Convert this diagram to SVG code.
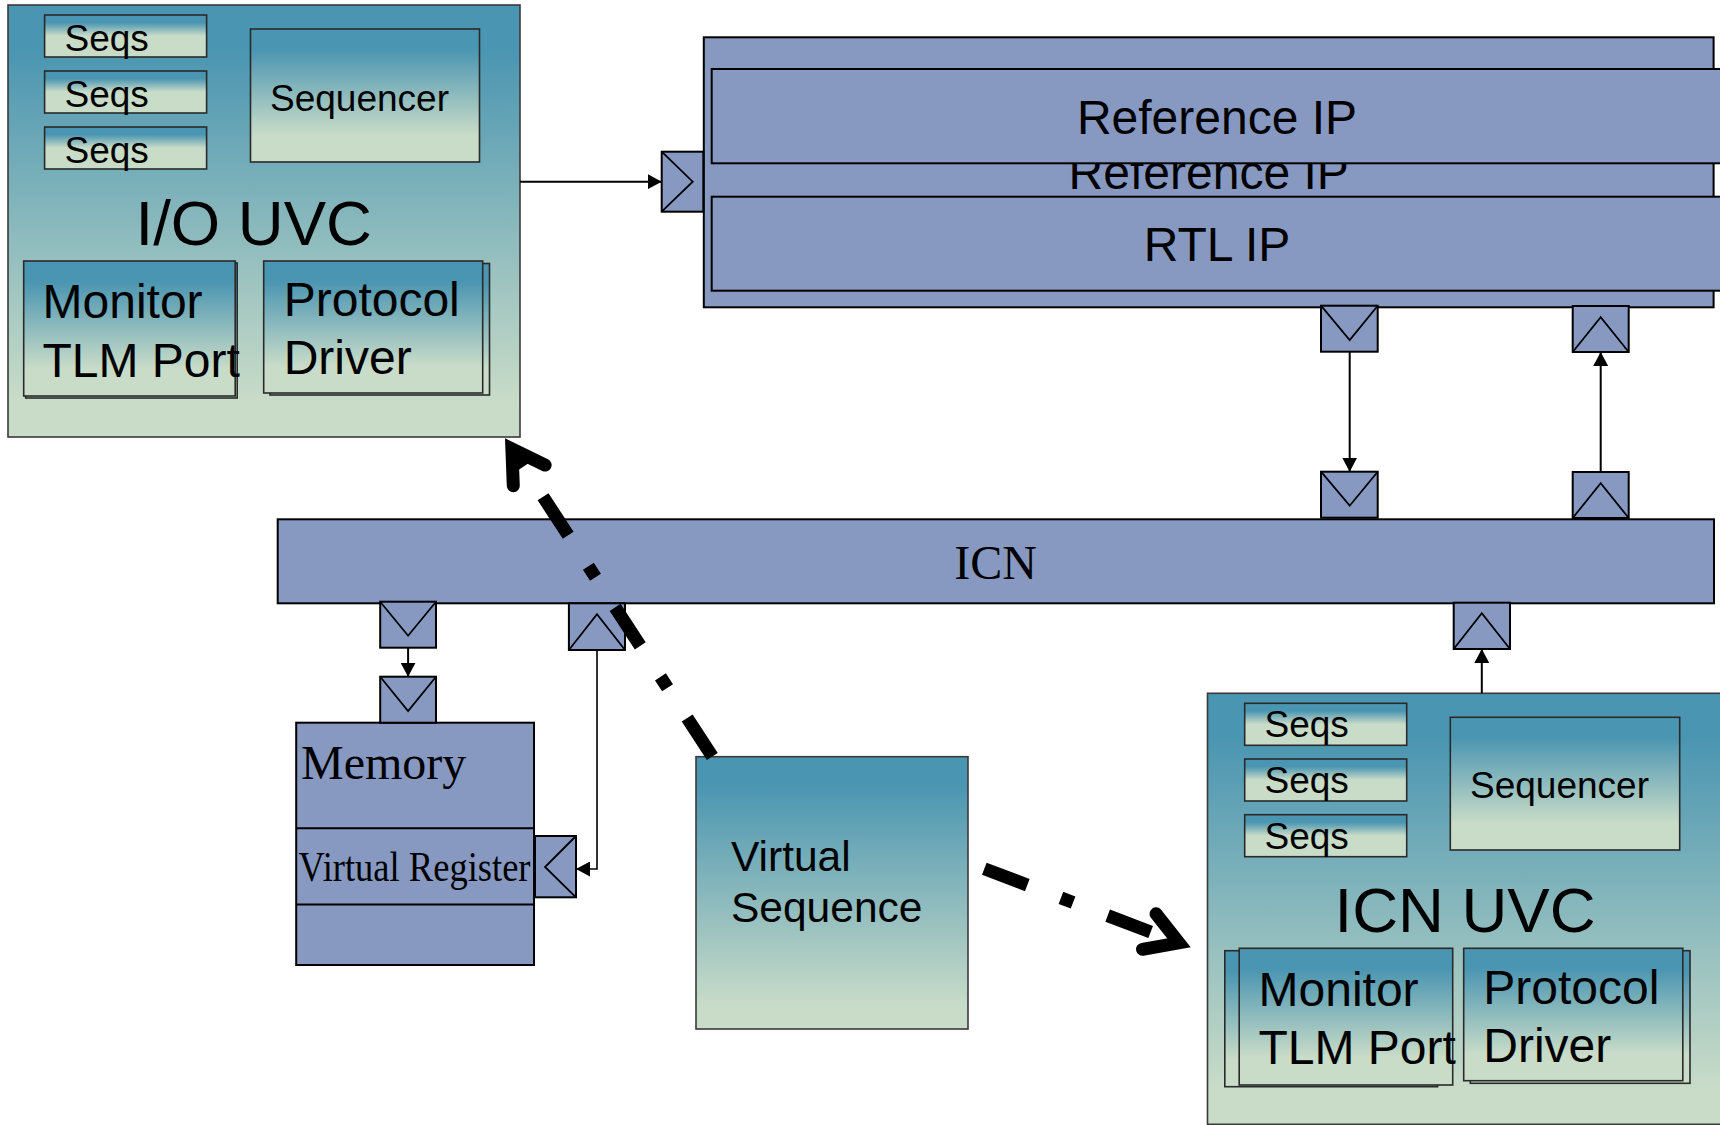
<svg xmlns="http://www.w3.org/2000/svg" width="1720" height="1125" viewBox="0 0 1720 1125">
  <defs>
    <linearGradient id="uvcFill" x1="0" y1="0" x2="0" y2="1">
      <stop offset="0.1" stop-color="#4A95B1"/>
      <stop offset="0.92" stop-color="#C9DCC8"/>
    </linearGradient>
    <linearGradient id="partFill" x1="0" y1="0" x2="0" y2="1">
      <stop offset="0.15" stop-color="#4A95B1"/>
      <stop offset="0.8" stop-color="#C9DCC8"/>
    </linearGradient>
    <linearGradient id="seqsFill" x1="0" y1="0" x2="0" y2="1">
      <stop offset="0.18" stop-color="#4A95B1"/>
      <stop offset="0.5" stop-color="#C9DCC8"/>
    </linearGradient>
    <marker id="arrow" markerUnits="userSpaceOnUse" viewBox="0 0 14 15" refX="14" refY="7.5" markerWidth="14" markerHeight="15" orient="auto">
      <path d="M0,0 L14,7.5 L0,15 Z" fill="#000"/>
    </marker>
    <marker id="chevron" markerUnits="userSpaceOnUse" viewBox="-50 -35 70 70" refX="0" refY="0" markerWidth="70" markerHeight="70" orient="auto" overflow="visible">
      <path d="M-31.7,-19 L0,0 L-31.7,19" fill="none" stroke="#000" stroke-width="13" stroke-linecap="round" stroke-linejoin="miter"/>
    </marker>
    <style>
      .sans { font-family: "Liberation Sans", Arial, sans-serif; fill: #000; }
      .serif { font-family: "Liberation Serif", "Times New Roman", serif; fill: #000; }
      .uvc { fill: url(#uvcFill); stroke: #3a3a3a; stroke-width: 1.6; }
      .part { fill: url(#partFill); stroke: #2a2a2a; stroke-width: 1.6; }
      .seqs { fill: url(#seqsFill); stroke: #2a2a2a; stroke-width: 1.6; }
      .blue { fill: #8799C1; stroke: #000; stroke-width: 2; }
      .port { fill: #8799C1; stroke: #000; stroke-width: 2; }
      .tri { fill: none; stroke: #000; stroke-width: 1.8; stroke-linejoin: miter; }
      .wire { fill: none; stroke: #000; stroke-width: 2; marker-end: url(#arrow); }
      .thin { fill: none; stroke: #000; stroke-width: 1.6; marker-end: url(#arrow); }
      .flow { fill: none; stroke: #000; stroke-width: 13; stroke-dasharray: 46 36 13 37; stroke-linecap: butt; marker-end: url(#chevron); }
      .t37 { font-size: 37px; }
      .t42 { font-size: 42.5px; }
      .t48 { font-size: 48px; }
      .t63 { font-size: 63.5px; }
    </style>
  </defs>

  <!-- I/O UVC agent -->
  <g id="io-uvc">
    <rect class="uvc" x="8" y="5" width="512" height="432"/>
    <rect class="seqs" x="44.6" y="15" width="162" height="42"/>
    <rect class="seqs" x="44.6" y="71" width="162" height="42"/>
    <rect class="seqs" x="44.6" y="127" width="162" height="42"/>
    <text class="sans t37" x="64.5" y="50.5">Seqs</text>
    <text class="sans t37" x="64.5" y="106.5">Seqs</text>
    <text class="sans t37" x="64.5" y="162.5">Seqs</text>
    <rect class="part" x="250.5" y="29" width="229" height="133"/>
    <text class="sans t37" x="270" y="110.5">Sequencer</text>
    <text class="sans t63" x="135.5" y="245">I/O UVC</text>
    <rect class="part" x="25.7" y="263" width="211.5" height="135"/>
    <rect class="part" x="23.7" y="261" width="211.5" height="135"/>
    <text class="sans t48" x="42.5" y="317.5">Monitor</text>
    <text class="sans t48" x="42.5" y="376.5">TLM Port</text>
    <rect class="part" x="270" y="263.5" width="219.5" height="131.5"/>
    <rect class="part" x="263.7" y="261" width="219" height="132"/>
    <text class="sans t48" x="283.7" y="315.5">Protocol</text>
    <text class="sans t48" x="283.7" y="373.5">Driver</text>
  </g>

  <!-- Reference / RTL IP stack -->
  <g id="ip-stack">
    <rect class="blue" x="703.8" y="37.3" width="1009.8" height="270"/>
    <text class="sans t48" x="1208.7" y="189.3" text-anchor="middle">Reference IP</text>
    <rect class="blue" x="711.7" y="69" width="1015" height="94.3"/>
    <text class="sans t48" x="1217" y="133.5" text-anchor="middle">Reference IP</text>
    <rect class="blue" x="711.7" y="196.7" width="1015" height="94"/>
    <text class="sans t48" x="1217" y="261" text-anchor="middle">RTL IP</text>
  </g>
  <g id="ip-port-in">
    <rect class="port" x="661.7" y="151.7" width="41.6" height="60"/>
    <polyline class="tri" points="661.7,151.7 692.7,181.7 661.7,211.7"/>
  </g>
  <g id="ip-port-out">
    <rect class="port" x="1321" y="305.7" width="56.7" height="46"/>
    <polyline class="tri" points="1321,305.7 1349.7,340 1377.7,305.7"/>
  </g>
  <g id="ip-port-back">
    <rect class="port" x="1572.7" y="306" width="56" height="46"/>
    <polyline class="tri" points="1572.7,352 1600.7,317.3 1628.7,352"/>
  </g>

  <!-- ICN interconnect -->
  <g id="icn">
    <rect class="blue" x="277.7" y="519.3" width="1436.3" height="84"/>
    <text class="serif" x="995.7" y="579.3" font-size="48" text-anchor="middle">ICN</text>
  </g>
  <g id="icn-port-in">
    <rect class="port" x="1321" y="471.7" width="56.7" height="46"/>
    <polyline class="tri" points="1321,471.7 1349.7,505.7 1377.7,471.7"/>
  </g>
  <g id="icn-port-out">
    <rect class="port" x="1572.7" y="472" width="56" height="46"/>
    <polyline class="tri" points="1572.7,518 1600.7,483.3 1628.7,518"/>
  </g>
  <g id="icn-port-uvc">
    <rect class="port" x="1453.7" y="602.7" width="56.3" height="46.3"/>
    <polyline class="tri" points="1453.7,649 1481.8,613.3 1510,649"/>
  </g>
  <g id="icn-port-mem">
    <rect class="port" x="380.2" y="601.7" width="55.8" height="46"/>
    <polyline class="tri" points="380.2,601.7 408.1,635.7 436,601.7"/>
  </g>
  <g id="icn-port-reg">
    <rect class="port" x="568.9" y="603.3" width="56.1" height="46.7"/>
    <polyline class="tri" points="568.9,650 597,614.3 625,650"/>
  </g>

  <!-- Memory with virtual register -->
  <g id="memory">
    <rect class="blue" x="296.2" y="722.7" width="237.8" height="242.3"/>
    <line x1="296.2" y1="828.3" x2="534" y2="828.3" stroke="#000" stroke-width="2"/>
    <line x1="296.2" y1="904.5" x2="534" y2="904.5" stroke="#000" stroke-width="2"/>
    <text class="serif" x="301" y="778.5" font-size="48">Memory</text>
    <text class="serif" x="298.5" y="881" font-size="42" textLength="232" lengthAdjust="spacingAndGlyphs">Virtual Register</text>
  </g>
  <g id="memory-port">
    <rect class="port" x="380.2" y="676.7" width="55.8" height="46"/>
    <polyline class="tri" points="380.2,676.7 408.1,711 436,676.7"/>
  </g>
  <g id="register-port">
    <rect class="port" x="535" y="836" width="41" height="61.3"/>
    <polyline class="tri" points="576,836 545,867 576,897.3"/>
  </g>

  <!-- Virtual sequence -->
  <g id="virtual-sequence">
    <rect class="uvc" x="696" y="756.7" width="272" height="272.3"/>
    <text class="sans t42" x="731" y="871">Virtual</text>
    <text class="sans t42" x="731" y="922">Sequence</text>
  </g>

  <!-- ICN UVC agent -->
  <g id="icn-uvc">
    <rect class="uvc" x="1207.5" y="693.3" width="520" height="431"/>
    <rect class="seqs" x="1244.7" y="703.3" width="162" height="42"/>
    <rect class="seqs" x="1244.7" y="759" width="162" height="42"/>
    <rect class="seqs" x="1244.7" y="814.7" width="162" height="42"/>
    <text class="sans t37" x="1264.5" y="737">Seqs</text>
    <text class="sans t37" x="1264.5" y="793">Seqs</text>
    <text class="sans t37" x="1264.5" y="848.5">Seqs</text>
    <rect class="part" x="1450.3" y="717.3" width="229.4" height="132.7"/>
    <text class="sans t37" x="1470" y="798">Sequencer</text>
    <text class="sans t63" x="1334.5" y="932.3">ICN UVC</text>
    <rect class="part" x="1224.8" y="950.7" width="212.8" height="136"/>
    <rect class="part" x="1239.2" y="948.3" width="213.5" height="136.7"/>
    <text class="sans t48" x="1258.5" y="1005.5">Monitor</text>
    <text class="sans t48" x="1258.5" y="1063.5">TLM Port</text>
    <rect class="part" x="1470.3" y="950.7" width="219.7" height="132.6"/>
    <rect class="part" x="1463.7" y="948.3" width="219.1" height="132.4"/>
    <text class="sans t48" x="1483.3" y="1003.5">Protocol</text>
    <text class="sans t48" x="1483.3" y="1061.5">Driver</text>
  </g>

  <!-- Connectors -->
  <g id="connectors">
    <path class="wire" d="M520,181.7 H661.7"/>
    <path class="wire" d="M1349.7,351.7 V471.7"/>
    <path class="wire" d="M1600.7,472 V352"/>
    <path class="wire" d="M1481.8,693.3 V649"/>
    <path class="wire" d="M408.1,647.7 V676.7"/>
    <path class="thin" d="M597,650 V869 H576"/>
    <path class="flow" d="M712.3,756.5 L511.9,448.9"/>
    <path class="flow" d="M984.3,868.7 L1178.9,942.8"/>
  </g>
</svg>
